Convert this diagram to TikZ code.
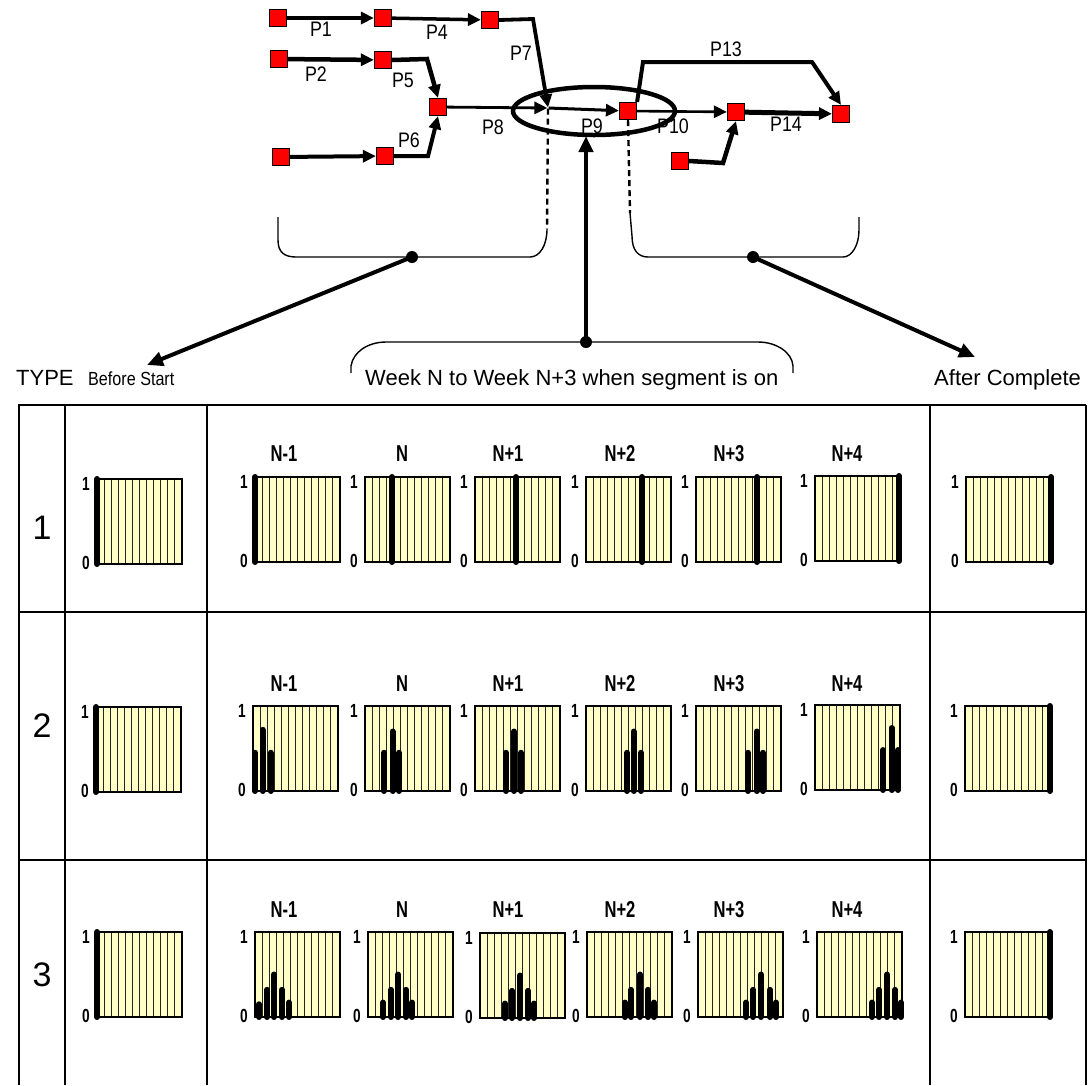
\documentclass[tikz,border=0pt]{standalone}
\usepackage{fontspec}
\setmainfont{Liberation Sans}
\newfontfamily\condsans[FakeStretch=0.72]{Liberation Sans}
\newfontfamily\narrowsans[FakeStretch=0.85]{Liberation Sans}
\usetikzlibrary{arrows.meta}
\definecolor{paleyellow}{RGB}{255,255,200}
\newcommand{\minichart}[4]{%
  \fill[paleyellow] (#2,#3) rectangle ++(85,85);
  \foreach \k in {1,...,11}{\draw[gridln] ({#2+\k*85/12},#3) -- ++(0,85);}
  \draw[frameln] (#2,#3) rectangle ++(85,85);
  \foreach \o/\h in {#4}{\draw[barln] ({#2+\o},{#3+85}) -- ++(0,{-85*\h});}
  \node[tick] (#1-one) at ({#2-11},{#3+11}) {1};
  \node[tick] (#1-zero) at ({#2-11},{#3+90}) {0};
}
\begin{document}
\begin{tikzpicture}[x=1pt,y=-1pt,
  sq/.style={draw=black, fill=red, line width=1.2pt, minimum size=17pt, inner sep=0pt},
  nsq/.style={sq, minimum width=11pt, minimum height=16pt, minimum size=0pt},
  edge/.style={-{Triangle[length=13pt,width=12pt]}, line join=miter},
  plbl/.style={font=\narrowsans\fontsize{21}{21}\selectfont, inner sep=0pt},
  biglbl/.style={font=\fontsize{22}{22}\selectfont, inner sep=0pt, anchor=base west},
  smalllbl/.style={font=\narrowsans\fontsize{19}{19}\selectfont, inner sep=0pt, anchor=base west},
  rownum/.style={font=\fontsize{34}{34}\selectfont, inner sep=0pt},
  coltitle/.style={font=\condsans\bfseries\fontsize{23}{23}\selectfont, inner sep=0pt, anchor=base},
  tick/.style={font=\condsans\bfseries\fontsize{19}{19}\selectfont, inner sep=0pt, anchor=base},
  gridln/.style={line width=1.1pt, black!85},
  frameln/.style={line width=2pt, black},
  barln/.style={line width=6pt, line cap=round, black},
  brace/.style={line width=1.4pt, black},
  tbl/.style={line width=1.8pt, black},
  pointer/.style={line width=4pt, -{Triangle[length=16pt,width=14pt]}},
  dot/.style={fill=black}
]
\useasboundingbox (0,0) rectangle (1091,1085);

% ---------------- network ----------------
\node[sq] (A1) at (278,18) {};
\node[sq] (A2) at (383,18) {};
\node[sq] (A3) at (490,20) {};
\node[sq] (B1) at (279,59) {};
\node[sq] (B2) at (383,60) {};
\node[sq] (M)  at (438,107) {};
\node[sq] (C1) at (281,157) {};
\node[sq] (C2) at (385,156) {};
\node[nsq] (X) at (548,108) {};
\node[sq] (Y)  at (628,111) {};
\node[sq] (Z)  at (736,112) {};
\node[sq] (E)  at (841,114) {};
\node[sq] (D)  at (680,161) {};

\coordinate (p7a) at (533,19);
\coordinate (p5a) at (427,59);
\coordinate (p6a) at (428,156);
\coordinate (p13a) at (643,62);
\coordinate (p13b) at (812,62);
\coordinate (pDa) at (723,163);

\draw[edge, line width=3.5pt] (A1) -- (A2);
\draw[edge, line width=3.5pt] (A2) -- (A3);
\draw[edge, line width=3.8pt] (A3.east) -- (p7a) -- (X.north);
\draw[edge, line width=4.5pt] (B1) -- (B2);
\draw[edge, line width=4.5pt] (B2.east) -- (p5a) -- (M.north);
\draw[edge, line width=4pt] (C1) -- (C2);
\draw[edge, line width=4pt] (C2.east) -- (p6a) -- (M.south);
\draw[edge, line width=2.8pt] (M) -- (X);
\draw[edge, line width=3pt] (X) -- (Y);
\draw[edge, line width=2.6pt] (Y) -- (Z);
\draw[edge, line width=4pt] (Y.north east) -- (p13a) -- (p13b) -- (E.north);
\draw[edge, line width=5pt] (Z) -- (E);
\draw[edge, line width=4.5pt] (D.east) -- (pDa) -- (Z.south);

\node[plbl] (lP1) at (321,29) {P1};
\node[plbl] (lP4) at (437,32) {P4};
\node[plbl] (lP7) at (521,53) {P7};
\node[plbl] (lP2) at (316,74) {P2};
\node[plbl] (lP5) at (403,80) {P5};
\node[plbl] (lP6) at (409,140) {P6};
\node[plbl] (lP8) at (493,127) {P8};
\node[plbl] (lP9) at (592,126) {P9};
\node[plbl] (lP10) at (673,126) {P10};
\node[plbl] (lP13) at (726,49) {P13};
\node[plbl] (lP14) at (786,124) {P14};

% segment ellipse
\draw[line width=4.5pt] (594,111) ellipse [x radius=81, y radius=24];

% dashed drops
\coordinate (dX) at (547,229);
\coordinate (dY) at (630,213);
\draw[line width=2.4pt, dash pattern=on 6pt off 4pt] (X.south) -- (dX);
\draw[line width=2.4pt, dash pattern=on 6pt off 4pt] (Y.south) -- (dY);

% braces
\draw[brace] (278,217) -- (278,240) .. controls (278,252) and (284,257) .. (296,257) -- (530,257) .. controls (540,257) and (547,245) .. (547,229);
\draw[brace] (dY) -- (632,236) .. controls (632,250) and (638,257) .. (648,257) -- (843,257) .. controls (852,257) and (859,245) .. (859,230) -- (859,217);
\draw[brace] (351,373) -- (351,366) .. controls (353,352) and (368,342) .. (386,342) -- (758,342) .. controls (776,342) and (792,352) .. (793,366) -- (793,373);

\coordinate (bL) at (412,257);
\coordinate (bR) at (753,257);
\coordinate (bM) at (586,342);
\coordinate (tL) at (147,365);
\coordinate (tR) at (975,357);
\coordinate (segbot) at (586,136);

\draw[pointer] (bL) -- (tL);
\draw[pointer] (bR) -- (tR);
\draw[pointer, line width=4.5pt] (bM) -- (segbot);
\fill[dot] (bL) circle (6);
\fill[dot] (bR) circle (6);
\fill[dot] (bM) circle (6);

% header labels
\node[biglbl] (ltype) at (16,385) {TYPE};
\node[smalllbl] (lbefore) at (88,385) {Before Start};
\node[biglbl] (lweek) at (365,385) {Week N to Week N+3 when segment is on};
\node[biglbl] (lafter) at (934,385) {After Complete};

% ---------------- table ----------------
\draw[tbl] (18,405) -- (1086,405);
\draw[tbl] (19,612) -- (1086,612);
\draw[tbl] (19,860) -- (1086,860);
\draw[tbl] (19,405) -- (19,1085);
\draw[tbl] (65,405) -- (65,1085);
\draw[tbl] (207,405) -- (207,1085);
\draw[tbl] (930,405) -- (930,1085);
\draw[tbl] (1086,405) -- (1086,1085);

\node[rownum] (r1) at (42,528) {1};
\node[rownum] (r2) at (42,726) {2};
\node[rownum] (r3) at (42,975) {3};

% row 1
\minichart{a0}{97}{479}{0/1}
\minichart{a1}{255}{477}{0/1}
\minichart{a2}{365}{477}{27/1}
\minichart{a3}{475}{477}{41/1}
\minichart{a4}{586}{477}{56/1}
\minichart{a5}{696}{477}{61/1}
\minichart{a6}{815}{476}{84/1}
\minichart{a7}{966}{477}{85/1}
% row 2
\minichart{b0}{96}{707}{0/1}
\minichart{b1}{253}{706}{2/.45,9.5/.72,17.5/.45}
\minichart{b2}{365}{706}{19/.45,27.5/.7,34/.45}
\minichart{b3}{475}{706}{31/.45,39/.7,46/.45}
\minichart{b4}{586}{706}{41/.45,47.5/.7,55/.45}
\minichart{b5}{696}{706}{52/.45,60.5/.7,67/.45}
\minichart{b6}{815}{705}{68/.47,76.5/.73,83/.47}
\minichart{b7}{965}{706}{85/1}
% row 3
\minichart{c0}{97}{932}{0/1}
\minichart{c1}{255}{932}{4/.15,12/.32,19/.5,27/.32,34/.17}
\minichart{c2}{368}{932}{15/.17,23/.32,30/.5,38/.32,44/.17}
\minichart{c3}{480}{933}{25/.17,32/.32,40/.5,48/.32,54/.17}
\minichart{c4}{587}{932}{38/.17,44/.32,53/.5,61/.32,67/.17}
\minichart{c5}{698}{932}{48/.17,55/.32,63/.5,72/.32,78/.17}
\minichart{c6}{817}{932}{55/.17,62/.32,70/.5,78/.32,84/.17}
\minichart{c7}{965}{932}{85/1}

% column titles
\foreach \r/\yy in {1/461,2/691,3/917}{
  \node[coltitle] (t\r-1) at (284,\yy) {N-1};
  \node[coltitle] (t\r-2) at (402,\yy) {N};
  \node[coltitle] (t\r-3) at (508,\yy) {N+1};
  \node[coltitle] (t\r-4) at (620,\yy) {N+2};
  \node[coltitle] (t\r-5) at (729,\yy) {N+3};
  \node[coltitle] (t\r-6) at (847,\yy) {N+4};
}
\end{tikzpicture}
\end{document}
